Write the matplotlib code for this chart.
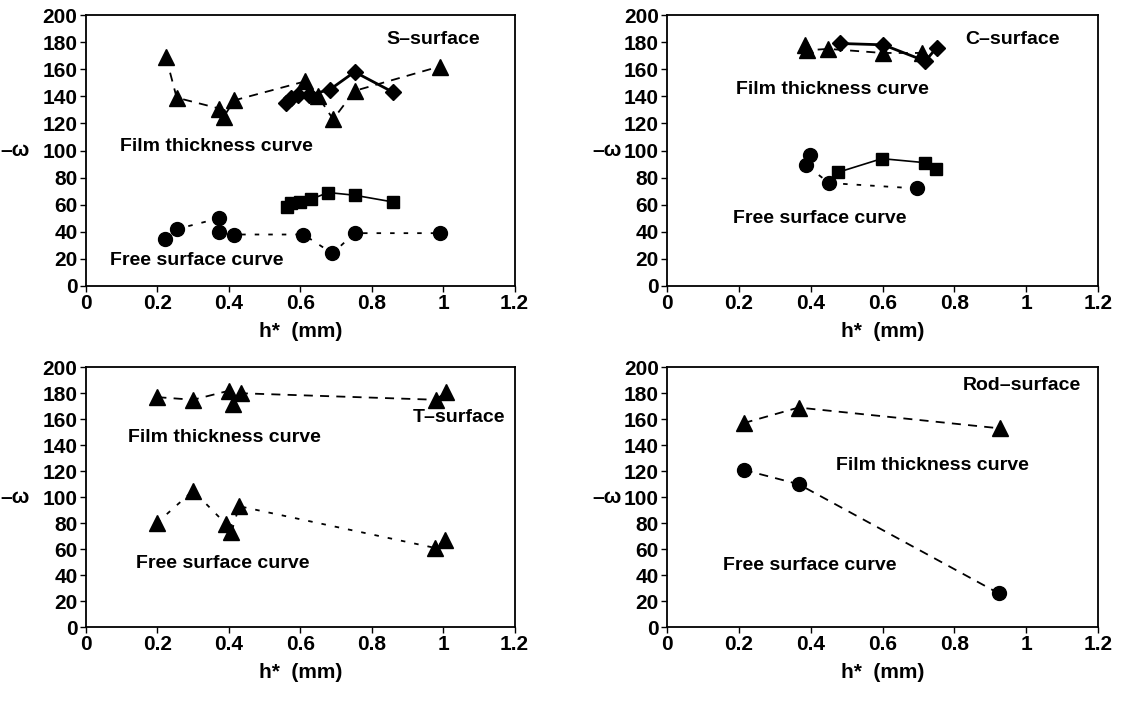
import matplotlib
matplotlib.use('Agg')
import matplotlib.pyplot as plt

plt.rcParams['font.family'] = ['Liberation Sans', 'DejaVu Sans']

x_ticks = [0, 0.2, 0.4, 0.6, 0.8, 1.0, 1.2]
x_ticklabels = ['0', '0.2', '0.4', '0.6', '0.8', '1', '1.2']
y_ticks = list(range(0, 201, 20))

# S-surface
s_film_tri_x = [0.224, 0.254, 0.373, 0.386, 0.415, 0.613, 0.65, 0.692, 0.752, 0.99]
s_film_tri_y = [169, 139, 131, 125, 137, 151, 140, 123, 144, 162]
s_film_dia_x = [0.56, 0.575, 0.595, 0.625, 0.683, 0.752, 0.86]
s_film_dia_y = [135, 139, 141, 141, 145, 158, 143]
s_free_cir_x = [0.221, 0.254, 0.373, 0.373, 0.414, 0.609, 0.69, 0.752, 0.99]
s_free_cir_y = [35, 42, 50, 40, 38, 38, 24, 39, 39]
s_free_sq_x = [0.562, 0.575, 0.60, 0.63, 0.678, 0.752, 0.86]
s_free_sq_y = [58, 61, 62, 64, 69, 67, 62]

# C-surface
c_film_tri_x = [0.385, 0.39, 0.449, 0.60, 0.71]
c_film_tri_y = [178, 174, 175, 172, 172]
c_film_dia_x = [0.482, 0.602, 0.719, 0.751]
c_film_dia_y = [179, 178, 166, 176]
c_free_cir_x = [0.398, 0.388, 0.451, 0.696]
c_free_cir_y = [97, 89, 76, 72]
c_free_sq_x = [0.477, 0.598, 0.719, 0.750]
c_free_sq_y = [84, 94, 91, 86]

# T-surface
t_film_x = [0.200, 0.300, 0.401, 0.412, 0.434, 0.979, 1.009]
t_film_y = [177, 175, 182, 172, 180, 175, 181]
t_free_x = [0.198, 0.300, 0.393, 0.407, 0.429, 0.976, 1.006]
t_free_y = [80, 105, 79, 73, 93, 61, 67]

# Rod-surface
r_film_x = [0.213, 0.366, 0.926]
r_film_y = [157, 169, 153]
r_free_x = [0.213, 0.366, 0.923]
r_free_y = [121, 110, 26]

dash = (0, (5, 4))
dot = (0, (2.5, 5))
txt = dict(fontsize=14, fontweight='bold', va='center', ha='left')

fig = plt.figure(figsize=(11.25, 7.02), dpi=100)
ax1 = fig.add_axes([0.0764, 0.5926, 0.381, 0.386])
ax2 = fig.add_axes([0.593, 0.5926, 0.383, 0.386])
ax3 = fig.add_axes([0.0764, 0.1068, 0.381, 0.370])
ax4 = fig.add_axes([0.593, 0.1068, 0.383, 0.370])

k = dict(color='black', lw=1.3)
ax1.plot(s_film_tri_x, s_film_tri_y, marker='^', ms=11, ls=dash, **k)
ax1.plot(s_film_dia_x, s_film_dia_y, marker='D', ms=8, ls='-', color='black', lw=2)
ax1.plot(s_free_cir_x, s_free_cir_y, marker='o', ms=10, ls=dot, **k)
ax1.plot(s_free_sq_x, s_free_sq_y, marker='s', ms=9, ls='-', color='black', lw=1.2)
ax1.text(0.84, 182, 'S\u2013surface', **txt)
ax1.text(0.095, 103, 'Film thickness curve', **txt)
ax1.text(0.067, 19, 'Free surface curve', **txt)

ax2.plot(c_film_tri_x, c_film_tri_y, marker='^', ms=11, ls=dash, **k)
ax2.plot(c_film_dia_x, c_film_dia_y, marker='D', ms=8, ls='-', color='black', lw=2)
ax2.plot(c_free_cir_x, c_free_cir_y, marker='o', ms=10, ls=dot, **k)
ax2.plot(c_free_sq_x, c_free_sq_y, marker='s', ms=9, ls='-', color='black', lw=1.2)
ax2.text(0.83, 182, 'C\u2013surface', **txt)
ax2.text(0.193, 145, 'Film thickness curve', **txt)
ax2.text(0.184, 50, 'Free surface curve', **txt)

ax3.plot(t_film_x, t_film_y, marker='^', ms=11, ls=dash, **k)
ax3.plot(t_free_x, t_free_y, marker='^', ms=11, ls=dot, **k)
ax3.text(0.915, 161, 'T\u2013surface', **txt)
ax3.text(0.118, 146, 'Film thickness curve', **txt)
ax3.text(0.14, 49, 'Free surface curve', **txt)

ax4.plot(r_film_x, r_film_y, marker='^', ms=11, ls=dash, **k)
ax4.plot(r_free_x, r_free_y, marker='o', ms=10, ls=dash, **k)
ax4.text(0.824, 186, 'Rod\u2013surface', **txt)
ax4.text(0.471, 124, 'Film thickness curve', **txt)
ax4.text(0.157, 47, 'Free surface curve', **txt)

for ax, yl in [(ax1, -0.165), (ax2, -0.14), (ax3, -0.165), (ax4, -0.14)]:
    ax.set_xlim(0, 1.2)
    ax.set_ylim(0, 200)
    ax.set_xticks(x_ticks)
    ax.set_xticklabels(x_ticklabels)
    ax.set_yticks(y_ticks)
    ax.tick_params(direction='out', length=4, width=1, labelsize=15, pad=2)
    for lab in ax.get_xticklabels() + ax.get_yticklabels():
        lab.set_fontweight('bold')
    for sp in ax.spines.values():
        sp.set_linewidth(1.3)
    ax.set_xlabel('h*  (mm)', fontsize=15, fontweight='bold', labelpad=6)
    ax.text(yl, 0.5, '\u2013\u03c9', transform=ax.transAxes, fontsize=15,
            fontweight='bold', ha='center', va='center')

fig.savefig('out.png', dpi=100)
